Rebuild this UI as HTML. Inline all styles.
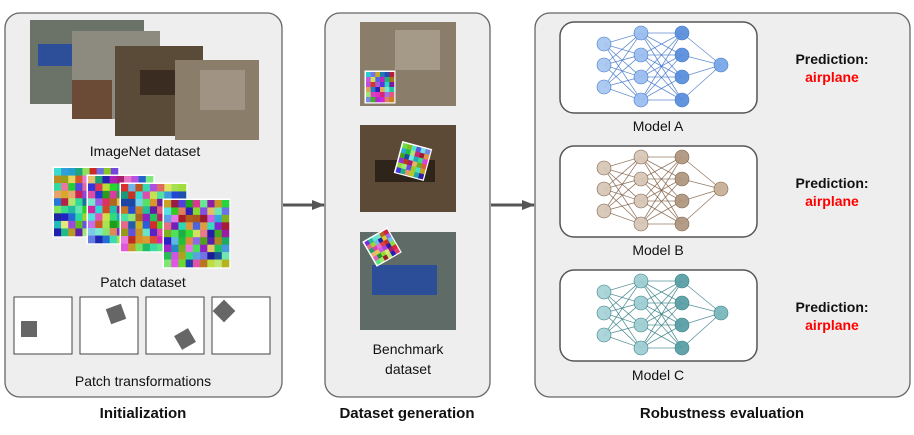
<!DOCTYPE html>
<html><head><meta charset="utf-8"><style>
html,body{margin:0;padding:0;background:#fff}
svg{display:block}
text{font-family:"Liberation Sans",Arial,sans-serif;fill:#111}
</style></head><body>
<svg id="s" width="914" height="435" viewBox="0 0 914 435" xmlns="http://www.w3.org/2000/svg">
<defs><marker id="ah" markerUnits="userSpaceOnUse" markerWidth="14" markerHeight="12" refX="12" refY="6" orient="auto"><path d="M0,1 L13,6 L0,11 Z" fill="#555"/></marker></defs>
<rect x="5" y="13" width="277" height="384" rx="15" fill="#eeeeee" stroke="#666" stroke-width="1.3"/>
<rect x="325" y="13" width="165" height="384" rx="15" fill="#eeeeee" stroke="#666" stroke-width="1.3"/>
<rect x="535" y="13" width="375" height="384" rx="15" fill="#eeeeee" stroke="#666" stroke-width="1.3"/>
<line x1="283" y1="205" x2="324" y2="205" stroke="#555" stroke-width="3" marker-end="url(#ah)"/>
<line x1="491" y1="205" x2="534" y2="205" stroke="#555" stroke-width="3" marker-end="url(#ah)"/>
<rect x="30" y="20" width="114" height="84" fill="#6b7268"/>
<rect x="38" y="44" width="36" height="22" fill="#2d4f9a"/>
<rect x="72" y="31" width="88" height="88" fill="#8d8a80"/>
<rect x="72" y="80" width="40" height="39" fill="#6b4a36"/>
<rect x="115" y="46" width="88" height="90" fill="#5a4a38"/>
<rect x="140" y="70" width="40" height="25" fill="#3a2c20"/>
<rect x="175" y="60" width="84" height="80" fill="#8a7d6a"/>
<rect x="200" y="70" width="45" height="40" fill="#a09383"/>
<text x="145" y="156" font-size="14" text-anchor="middle">ImageNet dataset</text>
<g id="patches"></g>
<text x="143" y="287" font-size="14" text-anchor="middle">Patch dataset</text>
<g fill="#fff" stroke="#444" stroke-width="1">
<rect x="14" y="297" width="58" height="57"/><rect x="80" y="297" width="58" height="57"/>
<rect x="146" y="297" width="58" height="57"/><rect x="212" y="297" width="58" height="57"/></g>
<g fill="#666">
<rect x="21" y="321" width="16" height="16"/>
<rect x="108" y="306" width="16" height="16" transform="rotate(-20 116 314)"/>
<rect x="177" y="331" width="16" height="16" transform="rotate(-30 185 339)"/>
<rect x="216" y="303" width="16" height="16" transform="rotate(45 224 311)"/>
</g>
<text x="143" y="386" font-size="14" text-anchor="middle">Patch transformations</text>
<text x="143" y="418" font-size="15" font-weight="bold" text-anchor="middle">Initialization</text>
<rect x="360" y="22" width="96" height="84" fill="#8a7d6a"/>
<rect x="395" y="30" width="45" height="40" fill="#a59a88"/>
<rect x="360" y="125" width="96" height="87" fill="#5c4a36"/>
<rect x="375" y="160" width="60" height="22" fill="#2f241a"/>
<rect x="360" y="232" width="96" height="98" fill="#5f6b66"/>
<rect x="372" y="265" width="65" height="30" fill="#2c4d98"/>
<g id="mp"></g>
<text x="408" y="354" font-size="14" text-anchor="middle">Benchmark</text>
<text x="408" y="374" font-size="14" text-anchor="middle">dataset</text>
<text x="407" y="418" font-size="15" font-weight="bold" text-anchor="middle">Dataset generation</text>
<g id="nets"></g>
<g font-size="14" text-anchor="middle">
<text x="658" y="131">Model A</text><text x="658" y="255">Model B</text><text x="658" y="380">Model C</text></g>
<g font-size="14" font-weight="bold" text-anchor="middle">
<text x="832" y="64">Prediction:</text><text x="832" y="82" style="fill:#f00">airplane</text>
<text x="832" y="188">Prediction:</text><text x="832" y="206" style="fill:#f00">airplane</text>
<text x="832" y="312">Prediction:</text><text x="832" y="330" style="fill:#f00">airplane</text></g>
<text x="722" y="418" font-size="15" font-weight="bold" text-anchor="middle">Robustness evaluation</text>
</svg>
<script>
var NS="http://www.w3.org/2000/svg";
function el(p,n,a){var e=document.createElementNS(NS,n);for(var k in a)e.setAttribute(k,a[k]);p.appendChild(e);return e;}
var seed=7;function rnd(){seed=(seed*9301+49297)%233280;return seed/233280;}
function patch(g,x,y,w,h,n,rot){
 var gg=el(g,"g",rot?{transform:"rotate("+rot+" "+(x+w/2)+" "+(y+h/2)+")"}:{});
 el(gg,"rect",{x:x-1.5,y:y-1.5,width:w+3,height:h+3,fill:"#fff"});
 var cw=w/n,ch=h/n;
 for(var i=0;i<n;i++)for(var j=0;j<n;j++)el(gg,"rect",{x:x+i*cw,y:y+j*ch,width:cw+0.3,height:ch+0.3,fill:"hsl("+Math.floor(rnd()*360)+",70%,"+(35+rnd()*35)+"%)"});
}
var P=document.getElementById("patches");
patch(P,54,168,64,68,9);patch(P,88,176,65,67,9);patch(P,121,184,65,67,9);patch(P,164,200,65,67,9);
var M=document.getElementById("mp");
patch(M,366,72,28,30,6);patch(M,399,146,28,30,6,15);patch(M,369,234,26,26,6,-30);
var N=document.getElementById("nets");
var cols=[["#a9c8f0","#9dbff0","#5b8fdd","#7aa8e8","#3d72c8"],["#d8c8b8","#d8c8b8","#b09880","#c8b098","#7a5a40"],["#a8d4d8","#a0cfd3","#5aa0a6","#7ab8bc","#2f7a80"]];
[22,146,270].forEach(function(by,k){
 el(N,"rect",{x:560,y:by,width:197,height:91,rx:14,fill:"#fff",stroke:"#555","stroke-width":1.5});
 var c=cols[k];
 var L=[[604,[44,65,87]],[641,[33,55,77,100]],[682,[33,55,77,100]],[721,[65]]];
 for(var l=0;l<3;l++)L[l][1].forEach(function(a){L[l+1][1].forEach(function(b){
   el(N,"line",{x1:L[l][0],y1:a+by-22,x2:L[l+1][0],y2:b+by-22,stroke:c[4],"stroke-width":0.8,opacity:0.8});});});
 var fills=[c[0],c[1],c[2],c[3]];
 L.forEach(function(Ly,i){Ly[1].forEach(function(yy){el(N,"circle",{cx:Ly[0],cy:yy+by-22,r:7,fill:fills[i],stroke:c[4],"stroke-width":0.6,opacity:0.95});});});
});
</script>
</body></html>
